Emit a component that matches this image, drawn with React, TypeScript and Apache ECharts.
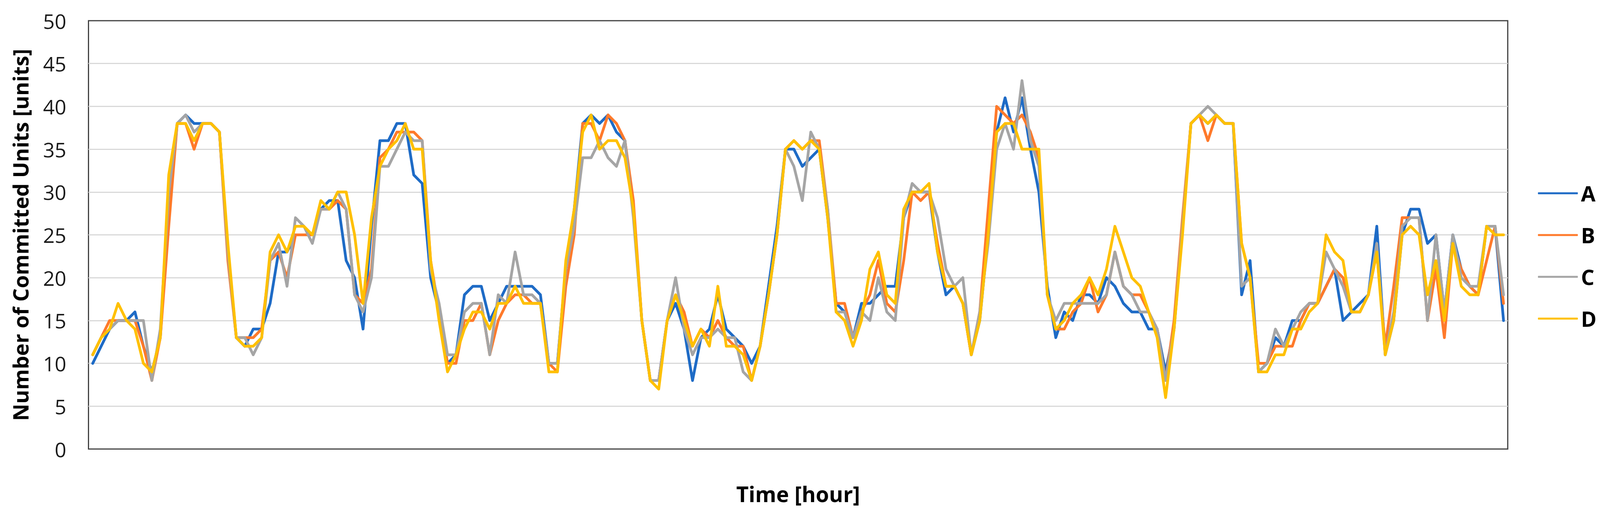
import React, { useEffect, useRef } from "react";
import * as echarts from "echarts";

const seriesNames = ["A", "B", "C", "D"];
const seriesColors = ["#1E6BC6", "#FF7A2B", "#A5A5A5", "#FFC000"];

// hour categories 1..168
const hours: string[] = Array.from({ length: 168 }, (_, i) => String(i + 1));

const yMin = 0;
const yMax = 50;
const yStep = 5;

const seriesA = [
  10, 12, 14, 15, 15, 16, 12, 9, 13, 28, 38, 39, 38, 38, 38, 37, 23, 13, 12, 14, 14,
  17, 23, 23, 25, 25, 25, 28, 29, 29, 22, 20, 14, 26, 36, 36, 38, 38, 32, 31, 20, 16,
  10, 11, 18, 19, 19, 15, 17, 19, 19, 19, 19, 18, 10, 10, 21, 28, 38, 39, 38, 39, 37,
  36, 28, 15, 8, 8, 15, 17, 14, 8, 13, 14, 18, 14, 13, 12, 10, 12, 19, 26, 35, 35,
  33, 34, 35, 27, 17, 16, 13, 17, 17, 18, 19, 19, 27, 30, 30, 30, 23, 18, 19, 17, 11,
  15, 25, 37, 41, 37, 41, 35, 30, 19, 13, 16, 15, 18, 18, 17, 20, 19, 17, 16, 16, 14,
  14, 9, 14, 26, 38, 39, 38, 39, 38, 38, 18, 22, 9, 10, 13, 12, 15, 15, 17, 17, 19,
  21, 15, 16, 17, 18, 26, 11, 15, 25, 28, 28, 24, 25, 16, 25, 21, 19, 18, 26, 26, 15,
];

const seriesB = [
  11, 13, 15, 15, 15, 15, 12, 8, 13, 26, 38, 38, 35, 38, 38, 37, 22, 13, 13, 13, 14,
  22, 23, 20, 25, 25, 25, 28, 28, 29, 28, 18, 17, 21, 34, 35, 37, 37, 37, 36, 22, 16,
  10, 10, 15, 15, 17, 11, 15, 17, 18, 18, 17, 17, 10, 9, 19, 25, 38, 38, 36, 39, 38,
  36, 29, 15, 8, 8, 15, 18, 16, 12, 14, 13, 15, 13, 12, 12, 8, 12, 18, 25, 35, 36,
  35, 36, 36, 28, 17, 17, 13, 16, 18, 22, 17, 16, 22, 30, 29, 30, 24, 19, 19, 17, 11,
  16, 28, 40, 39, 38, 39, 37, 34, 18, 14, 14, 16, 17, 20, 16, 18, 23, 19, 18, 18, 16,
  14, 8, 15, 27, 38, 39, 36, 39, 38, 38, 24, 20, 10, 10, 12, 12, 12, 15, 17, 17, 19,
  21, 20, 16, 16, 18, 23, 12, 19, 27, 27, 27, 15, 21, 13, 24, 21, 19, 18, 22, 26, 17,
];

const seriesC = [
  11, 13, 14, 15, 15, 15, 15, 8, 14, 30, 38, 39, 37, 38, 38, 37, 23, 13, 13, 11, 13,
  22, 24, 19, 27, 26, 24, 28, 28, 30, 28, 18, 16, 20, 33, 33, 35, 37, 36, 36, 21, 17,
  11, 11, 16, 17, 17, 11, 18, 17, 23, 18, 18, 17, 10, 10, 21, 26, 34, 34, 36, 34, 33,
  36, 27, 15, 8, 8, 15, 20, 14, 11, 13, 13, 14, 13, 13, 9, 8, 12, 18, 25, 35, 33,
  29, 37, 35, 28, 16, 16, 13, 16, 15, 20, 16, 15, 27, 31, 30, 30, 27, 21, 19, 20, 11,
  16, 24, 35, 38, 35, 43, 36, 33, 18, 15, 17, 17, 17, 17, 17, 18, 23, 19, 18, 16, 16,
  14, 8, 14, 26, 38, 39, 40, 39, 38, 38, 19, 20, 9, 10, 14, 12, 14, 16, 17, 17, 23,
  21, 19, 16, 16, 18, 24, 11, 16, 26, 27, 27, 15, 25, 16, 25, 20, 19, 19, 26, 26, 18,
];

const seriesD = [
  11, 13, 14, 17, 15, 14, 10, 9, 13, 32, 38, 38, 36, 38, 38, 37, 24, 13, 12, 12, 13,
  23, 25, 23, 26, 26, 25, 29, 28, 30, 30, 25, 17, 27, 33, 35, 36, 38, 35, 35, 22, 15,
  9, 11, 14, 16, 16, 14, 17, 17, 19, 17, 17, 17, 9, 9, 22, 28, 37, 39, 35, 36, 36,
  34, 28, 15, 8, 7, 15, 18, 15, 12, 14, 12, 19, 12, 12, 11, 8, 12, 18, 25, 35, 36,
  35, 36, 35, 27, 16, 15, 12, 15, 21, 23, 18, 17, 28, 30, 30, 31, 23, 19, 19, 17, 11,
  15, 25, 37, 38, 38, 35, 35, 35, 18, 14, 15, 17, 18, 20, 18, 21, 26, 23, 20, 19, 16,
  13, 6, 14, 25, 38, 39, 38, 39, 38, 38, 24, 20, 9, 9, 11, 11, 14, 14, 16, 17, 25,
  23, 22, 16, 16, 18, 23, 11, 15, 25, 26, 25, 18, 22, 15, 24, 19, 18, 18, 26, 25, 25,
];

const seriesValues = [seriesA, seriesB, seriesC, seriesD];

const FONT = "'Open Sans', 'Noto Sans', 'DejaVu Sans', sans-serif";
const BASE_W = 4249;
const BASE_H = 1319;

export default function App() {
  const ref = useRef<HTMLDivElement>(null);

  useEffect(() => {
    document.body.style.margin = "0";
    const el = ref.current;
    if (!el) return;
    const W = el.clientWidth || BASE_W;
    const H = el.clientHeight || BASE_H;
    const sx = W / BASE_W;
    const sy = H / BASE_H;
    const sf = sx;
    const chart = echarts.init(el, null, { renderer: "svg", width: W, height: H });
    chart.setOption({
      animation: false,
      backgroundColor: "#ffffff",
      textStyle: { fontFamily: FONT },
      grid: {
        left: 235 * sx,
        right: 245 * sx,
        top: 53 * sy,
        bottom: 169 * sy,
        show: true,
        borderColor: "#404040",
        borderWidth: 3,
        backgroundColor: "transparent",
        containLabel: false,
      },
      legend: {
        orient: "vertical",
        left: 4079 * sx,
        top: 460 * sy,
        padding: 5,
        icon: "roundRect",
        itemWidth: 106 * sx,
        itemHeight: 5,
        itemGap: 47 * sy,
        data: seriesNames,
        textStyle: {
          fontFamily: FONT,
          fontSize: 56 * sf,
          fontWeight: "bold",
          color: "#000000",
          lineHeight: 60 * sy,
          padding: [0, 0, 0, 3 * sx],
        },
      },
      xAxis: {
        type: "category",
        data: hours,
        boundaryGap: true,
        axisLine: { show: false },
        axisTick: { show: false },
        axisLabel: { show: false },
        splitLine: { show: false },
        name: "Time [hour]",
        nameLocation: "middle",
        nameGap: 84 * sy,
        nameTextStyle: {
          fontFamily: FONT,
          fontSize: 57 * sf,
          fontWeight: "bold",
          color: "#000000",
          lineHeight: 60 * sy,
        },
      },
      yAxis: {
        type: "value",
        min: yMin,
        max: yMax,
        interval: yStep,
        axisLine: { show: false },
        axisTick: { show: false },
        axisLabel: {
          fontFamily: FONT,
          fontSize: 54 * sf,
          color: "#1a1a1a",
          margin: 59 * sx,
        },
        splitLine: {
          show: true,
          showMinLine: false,
          showMaxLine: false,
          lineStyle: { color: "#d9d9d9", width: 3 },
        },
        name: "Number of Committed Units [units]",
        nameLocation: "middle",
        nameGap: 151 * sx,
        nameTextStyle: {
          fontFamily: FONT,
          fontSize: 56 * sf,
          fontWeight: "bold",
          color: "#000000",
          lineHeight: 60 * sx,
        },
      },
      series: seriesNames.map((name, k) => ({
        name,
        type: "line",
        data: seriesValues[k],
        symbol: "none",
        showSymbol: false,
        smooth: false,
        itemStyle: { color: seriesColors[k] },
        lineStyle: { color: seriesColors[k], width: 7, join: "round", cap: "round" },
        emphasis: { disabled: true },
      })),
    });
    return () => chart.dispose();
  }, []);

  return (
    <div
      ref={ref}
      style={{ position: "fixed", left: 0, top: 0, width: "100vw", height: "100vh", background: "#ffffff" }}
    />
  );
}
